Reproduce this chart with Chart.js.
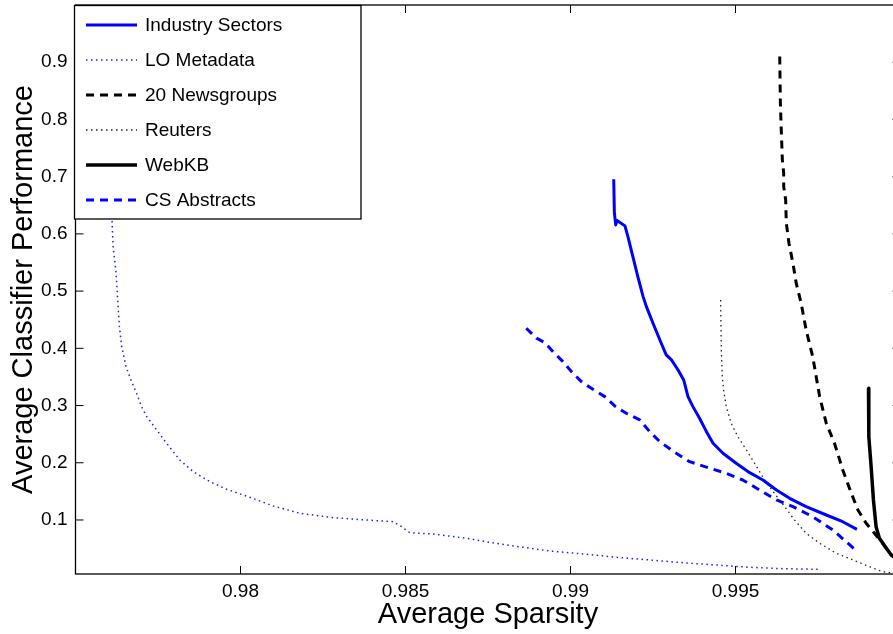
<!DOCTYPE html>
<html>
<head>
<meta charset="utf-8">
<script src="https://cdn.jsdelivr.net/npm/chart.js@4.4.1/dist/chart.umd.min.js"></script>
<style>
  html, body { margin: 0; padding: 0; background: #fff; overflow: hidden; }
  #wrap { width: 910px; height: 634px; }
</style>
</head>
<body>
<div id="wrap"><canvas id="chart" width="910" height="634"></canvas></div>
<script>
// tick values
const xTicks = [0.98, 0.985, 0.99, 0.995];
const yTicks = [0.1, 0.2, 0.3, 0.4, 0.5, 0.6, 0.7, 0.8, 0.9];

// series (sparsity, performance)
const seriesLabels = ["Industry Sectors", "LO Metadata", "20 Newsgroups", "Reuters", "WebKB", "CS Abstracts"];

const industryX = [0.99131, 0.99133, 0.99137, 0.99141, 0.99165, 0.99174, 0.99189, 0.99204, 0.99220, 0.99230, 0.99250, 0.99275, 0.99290, 0.99306, 0.99326, 0.99343, 0.99356, 0.99371, 0.99391, 0.99412, 0.99432, 0.99462, 0.99502, 0.99543, 0.99583, 0.99624, 0.99664, 0.99714, 0.99775, 0.99825, 0.99868];
const industryY = [0.6956, 0.6362, 0.6157, 0.6233, 0.6140, 0.5953, 0.5603, 0.5253, 0.4904, 0.4729, 0.4439, 0.4089, 0.3885, 0.3797, 0.3622, 0.3448, 0.3156, 0.2981, 0.2778, 0.2544, 0.2341, 0.2166, 0.1991, 0.1827, 0.1699, 0.1524, 0.1379, 0.1233, 0.1087, 0.0970, 0.0837];

const loX = [0.97610, 0.97611, 0.97614, 0.97623, 0.97628, 0.97633, 0.97640, 0.97653, 0.97668, 0.97685, 0.97700, 0.97716, 0.97746, 0.97776, 0.97816, 0.97857, 0.97907, 0.97958, 0.98028, 0.98099, 0.98180, 0.98281, 0.98382, 0.98462, 0.98488, 0.98513, 0.98584, 0.98685, 0.98786, 0.98937, 0.99038, 0.99139, 0.99240, 0.99341, 0.99442, 0.99543, 0.99644, 0.99750];
const loY = [0.640, 0.6187, 0.5778, 0.5313, 0.4846, 0.4379, 0.4030, 0.3680, 0.3448, 0.3215, 0.2981, 0.2806, 0.2573, 0.2341, 0.2049, 0.1844, 0.1670, 0.1537, 0.1397, 0.1245, 0.1117, 0.1040, 0.1000, 0.0970, 0.0883, 0.0778, 0.0755, 0.0680, 0.0580, 0.0458, 0.0406, 0.0348, 0.0301, 0.0253, 0.0213, 0.0173, 0.0149, 0.0138];

const newsX = [0.99634, 0.99636, 0.99639, 0.99642, 0.99646, 0.99646, 0.99652, 0.99654, 0.99662, 0.99674, 0.99684, 0.99699, 0.99714, 0.99734, 0.99755, 0.99775, 0.99800, 0.99825, 0.99851, 0.99871, 0.99896, 0.99921, 0.99946, 0.99972, 0.99997];
const newsY = [0.9100, 0.8285, 0.7760, 0.7294, 0.7061, 0.6827, 0.6594, 0.6187, 0.5837, 0.5488, 0.5138, 0.4788, 0.4322, 0.3855, 0.3156, 0.2691, 0.2341, 0.1874, 0.1467, 0.1175, 0.0942, 0.0767, 0.0593, 0.0388, 0.0266];

const reutersX = [0.99455, 0.99457, 0.99460, 0.99464, 0.99472, 0.99487, 0.99507, 0.99533, 0.99558, 0.99588, 0.99618, 0.99649, 0.99679, 0.99714, 0.99755, 0.99805, 0.99856, 0.99906, 0.99946, 0.99998];
const reutersY = [0.4846, 0.3972, 0.3505, 0.3273, 0.2981, 0.2691, 0.2456, 0.2224, 0.1991, 0.1699, 0.1467, 0.1233, 0.1000, 0.0767, 0.0593, 0.0418, 0.0301, 0.0184, 0.0096, 0.0060];

const webkbX = [0.99903, 0.99904, 0.99911, 0.99918, 0.99926, 0.99936, 0.99957, 0.99972, 0.99998];
const webkbY = [0.3302, 0.2456, 0.1932, 0.1350, 0.0883, 0.0680, 0.0505, 0.0388, 0.0301];

const csX = [0.98866, 0.98897, 0.98922, 0.98947, 0.98977, 0.99003, 0.99033, 0.99068, 0.99104, 0.99134, 0.99169, 0.99210, 0.99240, 0.99270, 0.99310, 0.99361, 0.99422, 0.99472, 0.99522, 0.99573, 0.99624, 0.99674, 0.99734, 0.99795, 0.99858];
const csY = [0.4351, 0.4177, 0.4100, 0.3942, 0.3767, 0.3593, 0.3418, 0.3285, 0.3156, 0.2993, 0.2865, 0.2748, 0.2544, 0.2372, 0.2206, 0.2019, 0.1904, 0.1816, 0.1699, 0.1524, 0.1350, 0.1233, 0.1058, 0.0825, 0.0505];

const FONT = "'Liberation Sans', Arial, Helvetica, sans-serif";
const Y_TITLE = "Average Classifier Performance";

function points(xs, ys) {
  return xs.map((x, i) => ({ x, y: ys[i] }));
}

function series(label, xs, ys, color, width, dash) {
  return {
    label,
    data: points(xs, ys),
    borderColor: color,
    backgroundColor: color,
    borderWidth: width,
    borderDash: dash,
    borderCapStyle: "butt",
    borderJoinStyle: "round",
    pointRadius: 0,
    tension: 0,
    fill: false
  };
}

// MATLAB style box, inward ticks on all four sides, y label and the boxed legend
const axesBox = {
  id: "axesBox",
  afterDatasetsDraw(chart) {
    const { ctx, chartArea: a, scales } = chart;
    const xs = scales.x, ys = scales.y;
    const tick = 8;
    ctx.save();
    ctx.strokeStyle = "#000";
    ctx.lineWidth = 1.3;
    ctx.strokeRect(a.left, a.top, a.right - a.left, a.bottom - a.top);
    ctx.lineWidth = 1;
    ctx.beginPath();
    xs.ticks.forEach((t) => {
      const px = xs.getPixelForValue(t.value);
      ctx.moveTo(px, a.bottom); ctx.lineTo(px, a.bottom - tick);
      ctx.moveTo(px, a.top); ctx.lineTo(px, a.top + tick);
    });
    ys.ticks.forEach((t) => {
      const py = ys.getPixelForValue(t.value);
      ctx.moveTo(a.left, py); ctx.lineTo(a.left + tick, py);
      ctx.moveTo(a.right, py); ctx.lineTo(a.right - tick, py);
    });
    ctx.stroke();

    // y label, centred on the axes
    ctx.save();
    ctx.translate(24, (a.top + a.bottom) / 2);
    ctx.rotate(-Math.PI / 2);
    ctx.font = "29px " + FONT;
    ctx.fillStyle = "#000";
    ctx.textAlign = "center";
    ctx.textBaseline = "middle";
    ctx.fillText(Y_TITLE, 0, 0);
    ctx.restore();

    // legend
    const box = { left: 74.5, top: 5.5, right: 361, bottom: 219 };
    ctx.fillStyle = "#fff";
    ctx.fillRect(box.left, box.top, box.right - box.left, box.bottom - box.top);
    ctx.lineWidth = 1.3;
    ctx.strokeStyle = "#000";
    ctx.strokeRect(box.left, box.top, box.right - box.left, box.bottom - box.top);
    ctx.font = "19px " + FONT;
    ctx.textBaseline = "middle";
    ctx.textAlign = "left";
    chart.data.datasets.forEach((ds, i) => {
      const y = 25 + i * 35;
      ctx.beginPath();
      ctx.setLineDash(ds.borderDash || []);
      ctx.lineWidth = ds.borderWidth;
      ctx.strokeStyle = ds.borderColor;
      ctx.lineCap = "butt";
      ctx.moveTo(86, y);
      ctx.lineTo(137, y);
      ctx.stroke();
      ctx.setLineDash([]);
      ctx.fillStyle = "#000";
      ctx.fillText(ds.label, 145, y + 1);
    });
    ctx.restore();
  }
};

new Chart(document.getElementById("chart"), {
  type: "line",
  data: {
    datasets: [
      series(seriesLabels[0], industryX, industryY, "#0000ff", 3, []),
      series(seriesLabels[1], loX, loY, "#1c1cff", 1.5, [1.5, 3.5]),
      series(seriesLabels[2], newsX, newsY, "#000000", 3, [8, 6]),
      series(seriesLabels[3], reutersX, reutersY, "#222222", 1.3, [1.5, 3.5]),
      series(seriesLabels[4], webkbX, webkbY, "#000000", 3.5, []),
      series(seriesLabels[5], csX, csY, "#0000ff", 3, [8, 6])
    ]
  },
  options: {
    responsive: false,
    animation: false,
    devicePixelRatio: 1,
    layout: { autoPadding: false, padding: { left: 0, top: 5, right: 9.5, bottom: 0 } },
    plugins: { legend: { display: false }, tooltip: { enabled: false } },
    scales: {
      x: {
        type: "linear",
        min: 0.975,
        max: 1.0,
        afterBuildTicks: (scale) => { scale.ticks = xTicks.map((value) => ({ value })); },
        afterFit: (scale) => { scale.height = 60; scale.paddingLeft = 0; scale.paddingRight = 0; },
        grid: { display: false, drawTicks: false },
        border: { display: false },
        ticks: { color: "#000", padding: 6, font: { family: FONT, size: 19 }, callback: (v) => String(v) },
        title: { display: true, text: "Average Sparsity", color: "#000", font: { family: FONT, size: 29 }, padding: { top: 0, bottom: 2 } }
      },
      y: {
        type: "linear",
        min: 0.0056,
        max: 1.0,
        afterBuildTicks: (scale) => { scale.ticks = yTicks.map((value) => ({ value })); },
        afterFit: (scale) => { scale.width = 75.5; scale.paddingTop = 0; scale.paddingBottom = 0; },
        grid: { display: false, drawTicks: false },
        border: { display: false },
        ticks: { color: "#000", padding: 8, font: { family: FONT, size: 19 }, callback: (v) => String(v) },
        title: { display: false }
      }
    }
  },
  plugins: [axesBox]
});
</script>
</body>
</html>
